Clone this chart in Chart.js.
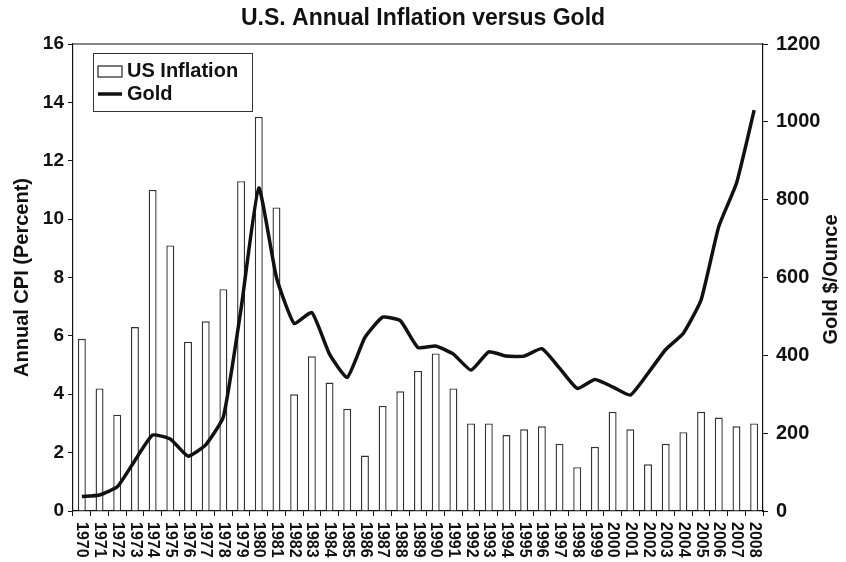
<!DOCTYPE html>
<html>
<head>
<meta charset="utf-8">
<script src="https://cdn.jsdelivr.net/npm/chart.js@4.4.1/dist/chart.umd.min.js"></script>
<style>
  html, body { margin: 0; padding: 0; background: #fff; }
  #wrap { width: 846px; height: 562px; }
</style>
</head>
<body>
<div id="wrap"><canvas id="ctx"></canvas></div>
<script>
const years = ['1970','1971','1972','1973','1974','1975','1976','1977','1978','1979',
  '1980','1981','1982','1983','1984','1985','1986','1987','1988','1989',
  '1990','1991','1992','1993','1994','1995','1996','1997','1998','1999',
  '2000','2001','2002','2003','2004','2005','2006','2007','2008'];
const inflation = [5.9,4.2,3.3,6.3,11.0,9.1,5.8,6.5,7.6,11.3,
  13.5,10.4,4.0,5.3,4.4,3.5,1.9,3.6,4.1,4.8,
  5.4,4.2,3.0,3.0,2.6,2.8,2.9,2.3,1.5,2.2,
  3.4,2.8,1.6,2.3,2.7,3.4,3.2,2.9,3.0];
const gold = [37,41,62,130,195,185,141,170,242,520,
  830,600,482,510,403,343,446,498,489,420,
  424,403,362,409,398,398,417,367,315,338,
  319,298,354,415,457,542,731,842,1030];

const FONT = 'Liberation Sans, Arial, sans-serif';
const ink = '#111';

const extras = {
  id: 'extras',
  afterDraw(chart) {
    const c = chart.ctx, xs = chart.scales.x, a = chart.chartArea;
    c.save();
    // top frame line
    c.strokeStyle = ink; c.lineWidth = 1.2;
    c.beginPath(); c.moveTo(a.left, a.top); c.lineTo(a.right, a.top); c.stroke();
    // year labels, reading top to bottom
    c.fillStyle = ink;
    c.font = 'bold 16px ' + FONT;
    c.textAlign = 'left'; c.textBaseline = 'middle';
    years.forEach((y, i) => {
      c.save();
      c.translate(xs.getPixelForValue(i), a.bottom + 11);
      c.rotate(Math.PI / 2);
      c.fillText(y, 0, 0);
      c.restore();
    });
    // right axis title, reading bottom to top
    c.save();
    c.font = 'bold 20px ' + FONT;
    c.textAlign = 'center';
    c.translate(831, (a.top + a.bottom) / 2 + 2);
    c.rotate(-Math.PI / 2);
    c.fillText('Gold $/Ounce', 0, 0);
    c.restore();
    // legend box
    c.strokeStyle = '#333'; c.lineWidth = 1;
    c.strokeRect(93.5, 53.5, 159, 58);
    c.fillStyle = '#fff'; c.strokeStyle = '#333'; c.lineWidth = 1.3;
    c.fillRect(98, 66, 24, 11); c.strokeRect(98, 66, 24, 11);
    c.strokeStyle = ink; c.lineWidth = 3.5;
    c.beginPath(); c.moveTo(98, 94); c.lineTo(122, 94); c.stroke();
    c.fillStyle = ink;
    c.font = 'bold 20px ' + FONT;
    c.textAlign = 'left';
    c.fillText('US Inflation', 127, 71);
    c.fillText('Gold', 127, 94);
    c.restore();
  }
};

new Chart(document.getElementById('ctx'), {
  type: 'bar',
  data: {
    labels: years,
    datasets: [
      {
        type: 'line',
        label: 'Gold',
        data: gold,
        yAxisID: 'y1',
        borderColor: ink,
        borderWidth: 3.5,
        pointRadius: 0,
        tension: 0.15,
        fill: false
      },
      {
        label: 'US Inflation',
        data: inflation,
        yAxisID: 'y',
        backgroundColor: '#fff',
        borderColor: '#333',
        borderWidth: 1.4,
        barPercentage: 0.45,
        categoryPercentage: 1
      }
    ]
  },
  options: {
    responsive: true,
    maintainAspectRatio: false,
    animation: false,
    layout: { padding: 0 },
    plugins: {
      legend: { display: false },
      tooltip: { enabled: false },
      title: {
        display: true,
        text: 'U.S. Annual Inflation versus Gold',
        color: ink,
        font: { family: FONT, size: 23, weight: 'bold' },
        padding: { top: 5, bottom: 11.4 }
      }
    },
    scales: {
      x: {
        grid: { display: true, drawOnChartArea: false, offset: true, color: ink, tickLength: 5, lineWidth: 1 },
        border: { color: ink, width: 1.2 },
        ticks: { display: false },
        afterFit(s) { s.height = 51; }
      },
      y: {
        position: 'left',
        min: 0, max: 16,
        ticks: { stepSize: 2, color: ink, padding: 4, font: { family: FONT, size: 19, weight: 'bold' } },
        grid: { drawOnChartArea: false, color: ink, tickLength: 5 },
        border: { color: ink, width: 1.2 },
        title: { display: true, text: 'Annual CPI (Percent)', color: ink, padding: { top: 10, bottom: 0 },
                 font: { family: FONT, size: 20, weight: 'bold' } },
        afterFit(s) { s.width = 73; }
      },
      y1: {
        position: 'right',
        min: 0, max: 1200,
        ticks: { stepSize: 200, color: ink, padding: 8, callback: v => String(v),
                 font: { family: FONT, size: 20, weight: 'bold' } },
        grid: { drawOnChartArea: false, color: ink, tickLength: 5 },
        border: { color: ink, width: 1.2 },
        afterFit(s) { s.width = 83; }
      }
    }
  },
  plugins: [extras]
});
</script>
</body>
</html>
